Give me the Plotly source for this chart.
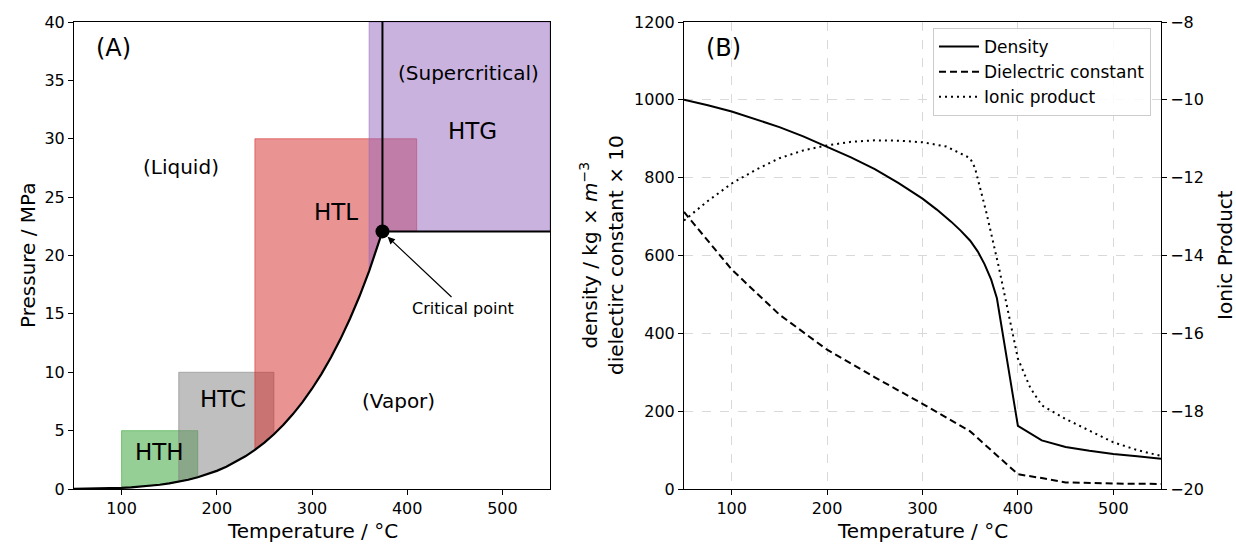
import numpy as np
import plotly.graph_objects as go

# ---------------- Data: panel A (phase diagram of water) ----------------
T_sat = [50, 60, 70, 80, 90, 100, 110, 120, 130, 140, 150, 160, 170, 180, 190, 200,
         210, 220, 230, 240, 250, 260, 270, 280, 290, 300, 310, 320, 330, 340, 350,
         360, 370, 374]
P_sat = [0.0123, 0.0200, 0.0312, 0.0474, 0.0702, 0.1014, 0.1434, 0.1987, 0.2703, 0.3615,
         0.4762, 0.6182, 0.7922, 1.0028, 1.2552, 1.5549, 1.9077, 2.3196, 2.7971, 3.3469,
         3.9762, 4.6923, 5.5030, 6.4166, 7.4418, 8.5879, 9.8651, 11.284, 12.858, 14.601,
         16.529, 18.666, 21.044, 22.064]

win_names = ["HTH", "HTC", "HTL", "HTG"]
win_tmin = [100, 160, 240, 360]
win_tmax = [180, 260, 410, 550]
win_pmax = [5, 10, 30, 40]
win_colors = ["44,160,44", "128,128,128", "214,39,40", "148,103,189"]
win_label_T = [139.6, 206.4, 325.7, 468.2]
win_label_P = [3.2, 7.7, 23.7, 30.7]

phase_names = ["(Liquid)", "(Vapor)", "(Supercritical)"]
phase_T = [162.5, 390.6, 464.9]
phase_P = [27.6, 7.5, 35.6]

# ---------------- Data: panel B (water properties) ----------------
T_dens = [50, 75, 100, 125, 150, 175, 200, 225, 250, 275, 300, 315, 330, 340, 350, 358,
          365, 372, 378, 400, 425, 450, 475, 500, 525, 550]
density = [1000, 986, 970, 951, 930, 906, 880, 852, 822, 786, 746, 718, 687, 664, 638,
           610, 578, 538, 490, 162, 125, 108, 98, 90, 84, 78]

T_diel = [50, 100, 150, 200, 250, 300, 350, 400, 425, 450, 500, 550]
diel_x10 = [712, 564, 448, 358, 287, 219, 148, 38, 28, 17, 14, 13]

T_ion = [50, 75, 100, 125, 150, 175, 200, 225, 250, 275, 300, 325, 350, 355, 367, 380,
         400, 413, 425, 450, 475, 500, 525, 550]
ionic = [-13.1, -12.6, -12.15, -11.8, -11.5, -11.3, -11.17, -11.08, -11.04, -11.05, -11.09,
         -11.2, -11.5, -11.75, -12.9, -14.3, -16.65, -17.4, -17.85, -18.2, -18.5, -18.8,
         -19.0, -19.15]

# ---------------- Layout geometry ----------------
W, H = 1236, 546
def px(x):
    return x / W
def py(y):
    return 1 - y / H

FONT = "DejaVu Sans"
fig = go.Figure()

Tc, Pc = T_sat[-1], P_sat[-1]

def bottom(t):
    return float(np.interp(t, T_sat, P_sat)) if t <= Tc else Pc

# process windows (filled above the saturation curve)
for name, tmin, tmax, pmax, col in zip(win_names, win_tmin, win_tmax, win_pmax, win_colors):
    xs = [tmin] + [t for t in T_sat if tmin < t < tmax] + [tmax]
    ys = [bottom(t) for t in xs]
    xs = xs + [tmax, tmin, tmin]
    ys = ys + [pmax, pmax, ys[0]]
    fig.add_trace(go.Scatter(x=xs, y=ys, mode="lines", fill="toself",
                             fillcolor=f"rgba({col},0.5)",
                             line=dict(color=f"rgba({col},0.55)", width=1),
                             showlegend=False, hoverinfo="skip",
                             xaxis="x", yaxis="y"))

# saturation curve
fig.add_trace(go.Scatter(x=T_sat, y=P_sat, mode="lines",
                         line=dict(color="black", width=2.2),
                         showlegend=False, xaxis="x", yaxis="y"))
# critical isotherm / isobar
fig.add_trace(go.Scatter(x=[Tc, Tc, 550], y=[40, Pc, Pc], mode="lines",
                         line=dict(color="black", width=2),
                         showlegend=False, xaxis="x", yaxis="y"))
# critical point
fig.add_trace(go.Scatter(x=[Tc], y=[Pc], mode="markers",
                         marker=dict(color="black", size=14),
                         showlegend=False, xaxis="x", yaxis="y"))

# ---------------- Panel B traces ----------------
fig.add_trace(go.Scatter(x=T_dens, y=density, mode="lines", name="Density",
                         line=dict(color="black", width=2),
                         xaxis="x2", yaxis="y2"))
fig.add_trace(go.Scatter(x=T_diel, y=diel_x10, mode="lines", name="Dielectric constant",
                         line=dict(color="black", width=2, dash="7px,4px"),
                         xaxis="x2", yaxis="y2"))
fig.add_trace(go.Scatter(x=T_ion, y=ionic, mode="lines", name="Ionic product",
                         line=dict(color="black", width=2, dash="2px,4px"),
                         xaxis="x2", yaxis="y3"))

# ---------------- Annotations ----------------
ann = []
for name, t, p in zip(win_names, win_label_T, win_label_P):
    ann.append(dict(x=t, y=p, xref="x", yref="y", text=name, showarrow=False,
                    font=dict(size=23, family=FONT, color="black")))
for name, t, p in zip(phase_names, phase_T, phase_P):
    ann.append(dict(x=t, y=p, xref="x", yref="y", text=name, showarrow=False,
                    font=dict(size=20, family=FONT, color="black")))
ann.append(dict(x=92, y=37.8, xref="x", yref="y", text="(A)", showarrow=False,
                font=dict(size=24, family=FONT, color="black")))
ann.append(dict(x=91, y=1133, xref="x2", yref="y2", text="(B)", showarrow=False,
                font=dict(size=24, family=FONT, color="black")))
# critical point label with arrow (text at ax/ay, arrow head at x/y)
ann.append(dict(x=379.5, y=21.6, xref="x", yref="y", ax=458.8, ay=15.5,
                axref="x", ayref="y", text="Critical point", showarrow=True,
                arrowhead=2, arrowsize=1.2, arrowwidth=1.2, arrowcolor="black",
                font=dict(size=16, family=FONT, color="black")))

# axis titles
TF = dict(size=20, family=FONT, color="black")
def title_ann(x, y, text, angle=0):
    return dict(x=px(x), y=py(y), xref="paper", yref="paper", text=text,
                showarrow=False, textangle=angle, xanchor="center", yanchor="middle",
                font=TF)
ann.append(title_ann(312, 531, "Temperature / °C"))
ann.append(title_ann(922, 531, "Temperature / °C"))
ann.append(title_ann(28, 255, "Pressure / MPa", -90))
ann.append(title_ann(602, 255,
                     "density / kg × <i>m</i><sup>−3</sup><br>dielectirc constant × 10", -90))
ann.append(title_ann(1225, 255, "Ionic Product", -90))

TICKF = dict(size=16, family=FONT, color="black")
common = dict(showline=True, linecolor="black", linewidth=1, ticks="outside",
              ticklen=5, tickwidth=1, tickcolor="black", zeroline=False,
              tickfont=TICKF, automargin=False)

yd = [1 - 489 / H, 1 - 22 / H]
fig.update_layout(
    width=W, height=H,
    margin=dict(l=0, r=0, t=0, b=0),
    paper_bgcolor="white", plot_bgcolor="white",
    font=dict(family=FONT, color="black"),
    xaxis=dict(domain=[px(74), px(550)], range=[50, 550], dtick=100, tick0=0,
               mirror=True, showgrid=False, anchor="y", **common),
    yaxis=dict(domain=yd, range=[0, 40], dtick=5, mirror=True, showgrid=False,
               anchor="x", **common),
    xaxis2=dict(domain=[px(684), px(1161)], range=[50, 550], dtick=100, tick0=0,
                mirror=True, showgrid=True, gridcolor="#d9d9d9", griddash="dash",
                gridwidth=1, anchor="y2", **common),
    yaxis2=dict(domain=yd, range=[0, 1200], dtick=200, mirror=True, showgrid=True,
                gridcolor="#d9d9d9", griddash="dash", gridwidth=1, anchor="x2", **common),
    yaxis3=dict(range=[-20, -8], dtick=2, overlaying="y2", side="right", anchor="x2",
                showgrid=False, **common),
    legend=dict(x=px(1151), y=py(28), xanchor="right", yanchor="top",
                bgcolor="rgba(255,255,255,0.85)", bordercolor="#cccccc", borderwidth=1,
                itemwidth=40,
                font=dict(size=17, family=FONT, color="black"), tracegroupgap=2),
    annotations=ann,
    showlegend=True,
)

fig.write_html("out.html")
